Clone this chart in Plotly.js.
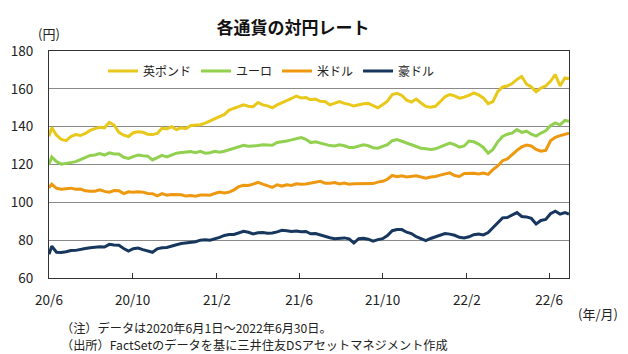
<!DOCTYPE html>
<html>
<head>
<meta charset="utf-8">
<script src="https://cdn.plot.ly/plotly-3.0.1.min.js"></script>
<style>
  html, body { margin: 0; padding: 0; background: #fff; }
  #chart { width: 628px; height: 354px; }
</style>
</head>
<body>
<div id="chart"></div>
<script>
// Series names
const seriesNames = ["英ポンド", "ユーロ", "米ドル", "豪ドル"];

// Weekly observations: 2020-06-01, then Fridays from 2020-06-05 to 2022-06-24, then 2022-06-30
const firstDate = "2020-06-01";
const firstFriday = "2020-06-05";
const weeklyCount = 108;
const lastDate = "2022-06-30";

const gbp = [134.9,
  139.5,135.5,133.3,132.6,134.8,135.8,135.3,136.4,138.0,139.0,
  139.7,139.4,142.2,140.8,137.0,135.5,134.8,136.8,137.3,137.0,
  136.0,135.8,136.4,139.2,138.8,140.0,138.5,139.4,139.0,140.6,
  140.8,141.0,141.9,143.0,144.0,145.2,146.5,148.8,149.8,150.8,
  151.6,150.8,150.6,152.8,151.5,151.0,150.0,151.5,152.8,153.8,
  154.9,156.2,155.2,155.4,154.2,154.6,153.4,153.3,151.5,152.2,
  153.2,152.3,151.8,150.9,151.6,152.1,152.3,151.2,150.0,151.6,
  153.5,157.0,157.6,156.5,154.0,153.0,154.6,152.5,150.7,150.3,
  150.8,153.2,155.8,157.0,156.3,155.1,155.6,156.6,157.8,156.8,
  155.2,152.2,153.3,158.5,161.0,161.5,162.8,165.0,166.5,162.5,
  161.0,158.5,160.4,161.5,164.0,167.5,161.5,165.8,
  165.3];

const eur = [120.0,
  124.0,121.5,120.2,120.6,121.0,121.5,122.6,123.6,124.8,125.0,
  125.8,125.0,126.2,125.6,125.5,123.8,123.2,124.2,125.0,124.6,
  124.4,122.4,123.4,124.8,124.0,125.0,126.0,126.3,126.6,126.8,
  126.2,127.0,126.0,126.2,127.0,126.5,127.0,127.8,128.9,129.3,
  130.1,129.6,129.7,130.0,130.4,130.1,130.2,131.6,131.9,132.4,
  133.0,133.8,134.2,133.3,131.6,132.0,131.2,130.5,130.0,129.8,
  130.4,129.9,129.0,129.0,129.9,130.4,129.9,128.9,128.6,129.4,
  130.5,132.6,133.2,132.3,131.4,130.6,129.4,128.6,128.3,128.0,
  128.3,129.2,130.3,131.3,130.5,129.2,129.8,132.4,132.0,130.8,
  129.0,126.0,128.0,132.0,134.8,136.0,136.6,138.5,137.0,137.6,
  136.0,135.0,136.6,137.8,140.5,142.0,141.0,143.3,
  142.8];

const usd = [107.7,
  109.6,107.4,106.9,107.2,107.5,106.9,107.0,106.1,105.8,105.9,
  106.6,105.8,105.4,106.2,106.1,104.6,105.6,105.3,105.6,105.4,
  104.7,104.6,103.4,104.6,103.8,104.1,104.2,104.0,103.3,103.6,
  103.2,103.9,103.9,103.8,104.7,105.4,104.9,105.4,106.6,108.3,
  109.0,108.9,109.6,110.6,109.6,108.8,107.9,109.3,108.6,109.3,
  108.9,109.8,109.5,109.7,110.2,110.8,111.1,110.1,110.1,110.5,
  109.7,110.2,109.6,109.8,109.8,109.7,109.9,109.9,110.7,111.1,
  112.2,114.2,113.5,114.0,113.4,113.9,114.0,113.4,112.8,113.4,
  113.7,114.4,115.1,115.6,114.2,113.7,115.2,115.2,115.4,115.0,
  115.5,114.8,117.3,119.2,122.0,123.0,125.5,127.5,129.3,130.3,
  129.8,128.0,127.0,127.5,132.5,134.4,135.3,135.8,
  136.6];

const aud = [72.5,
  76.8,73.6,73.5,73.9,74.5,74.6,74.9,75.6,76.0,76.3,
  76.5,76.4,77.8,77.5,77.3,75.6,74.2,75.5,75.8,75.0,
  74.4,73.6,75.4,76.0,76.1,77.0,77.6,78.2,78.5,78.8,
  79.2,80.0,80.2,80.0,80.6,81.5,82.5,83.0,83.0,84.0,
  84.7,84.2,83.3,83.9,84.0,83.7,83.8,84.4,85.2,85.0,
  84.6,84.9,84.5,84.6,83.4,83.5,82.7,82.0,81.3,80.8,
  81.0,81.2,80.7,78.5,80.8,81.0,80.5,79.5,80.3,80.8,
  82.4,85.0,85.6,85.6,84.2,83.5,81.8,80.8,79.8,80.9,
  81.8,82.9,83.5,83.2,82.6,81.5,81.2,81.8,82.9,83.3,
  82.8,84.0,86.5,89.5,91.8,92.0,93.2,94.6,92.5,92.3,
  91.5,88.6,90.4,91.0,94.0,95.3,93.8,94.6,
  93.8];

// x-axis ticks
const tickDates = ["2020-06-01","2020-10-01","2021-02-01","2021-06-01","2021-10-01","2022-02-01","2022-06-01"];
const tickLabels = ["20/6","20/10","21/2","21/6","21/10","22/2","22/6"];

const seriesColors = ["#E8C81A", "#92D050", "#EE980F", "#17375E"];

// Build date list
function buildDates() {
  const out = [firstDate];
  const base = new Date(firstFriday + "T00:00:00Z");
  for (let k = 0; k < weeklyCount; k++) {
    const d = new Date(base.getTime() + k * 7 * 86400000);
    out.push(d.toISOString().slice(0, 10));
  }
  out.push(lastDate);
  return out;
}
const dates = buildDates();

const values = [gbp, eur, usd, aud];
const FONT = '"Noto Sans CJK JP", "Noto Sans", sans-serif';

const traces = values.map((v, i) => ({
  type: "scatter",
  mode: "lines",
  name: seriesNames[i],
  x: dates,
  y: v,
  line: { color: seriesColors[i], width: 3 },
  hoverinfo: "skip"
}));

const L = 49, R = 569, T = 51, B = 278, W = 628, H = 354;
const px = x => (x - L) / (R - L);
const py = y => (B - y) / (B - T);

const layout = {
  width: W, height: H,
  margin: { l: L, r: W - R, t: T, b: H - B, pad: 0 },
  paper_bgcolor: "#fff",
  plot_bgcolor: "#fff",
  font: { family: FONT, color: "#222", size: 13 },
  showlegend: true,
  title: {
    text: "<b>各通貨の対円レート</b>",
    font: { family: FONT, size: 17, color: "#111" },
    x: 293 / W, xanchor: "center", xref: "container",
    y: 1 - 28 / H, yanchor: "middle", yref: "container"
  },
  legend: {
    orientation: "h",
    x: px(103), xanchor: "left",
    y: py(71), yanchor: "middle",
    bgcolor: "rgba(0,0,0,0)",
    font: { family: FONT, size: 12, color: "#222" },
    itemwidth: 30
  },
  xaxis: {
    type: "date",
    range: [firstDate, lastDate],
    tickmode: "array",
    tickvals: tickDates,
    ticktext: tickLabels,
    ticks: "inside",
    ticklen: 5,
    tickwidth: 1,
    tickcolor: "#333",
    showgrid: false,
    showline: true,
    linecolor: "#333",
    linewidth: 1,
    mirror: true,
    zeroline: false,
    ticklabelstandoff: 10,
    tickfont: { family: FONT, size: 13.5, color: "#222" }
  },
  yaxis: {
    range: [60, 180],
    tickmode: "linear",
    tick0: 60,
    dtick: 20,
    ticks: "",
    showgrid: true,
    gridcolor: "#8a8a8a",
    gridwidth: 1,
    showline: true,
    linecolor: "#333",
    linewidth: 1,
    mirror: true,
    zeroline: false,
    ticklabelstandoff: 12,
    tickfont: { family: FONT, size: 13.5, color: "#222" }
  },
  annotations: [
    { text: "(円)", xref: "paper", yref: "paper", x: px(49), y: py(33),
      xanchor: "center", yanchor: "middle", showarrow: false,
      font: { family: FONT, size: 13, color: "#222" } },
    { text: "(年/月)", xref: "paper", yref: "paper", x: px(598), y: py(313),
      xanchor: "center", yanchor: "middle", showarrow: false,
      font: { family: FONT, size: 13, color: "#222" } },
    { text: "（注）データは2020年6月1日～2022年6月30日。", xref: "paper", yref: "paper",
      x: px(59), y: py(328), xanchor: "left", yanchor: "middle", showarrow: false,
      font: { family: FONT, size: 12.2, color: "#222" } },
    { text: "（出所）FactSetのデータを基に三井住友DSアセットマネジメント作成", xref: "paper", yref: "paper",
      x: px(59), y: py(345), xanchor: "left", yanchor: "middle", showarrow: false,
      font: { family: FONT, size: 12.2, color: "#222" } }
  ]
};

Plotly.newPlot("chart", traces, layout, { displayModeBar: false, staticPlot: true });
</script>
</body>
</html>
